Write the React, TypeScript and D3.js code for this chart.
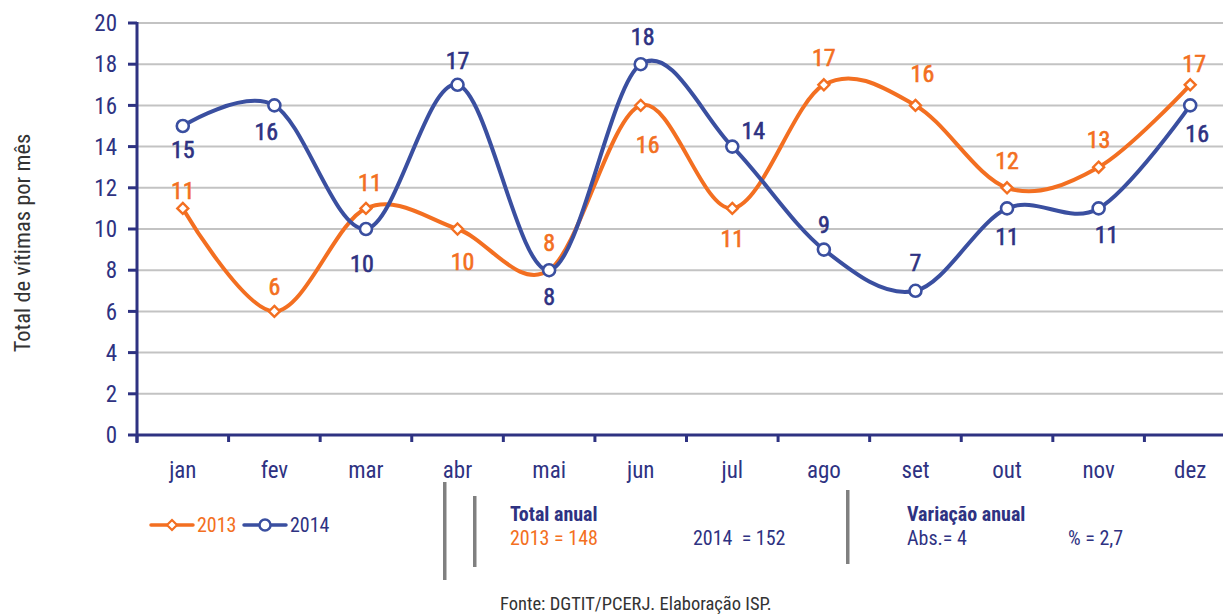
import React from "react";
import * as d3 from "d3";

const months = ["jan", "fev", "mar", "abr", "mai", "jun", "jul", "ago", "set", "out", "nov", "dez"];
const values2013 = [11, 6, 11, 10, 8, 16, 11, 17, 16, 12, 13, 17];
const values2014 = [15, 16, 10, 17, 8, 18, 14, 9, 7, 11, 11, 16];
// label offsets (dx, dy of baseline relative to point), layout only
const labelDx2013 = [0, 0, 4, 5, 0, 7, 0, 0, 7, 0, 0, 4];
const labelDy2013 = [-9, -16, -17, 41, -19, 48, 39, -19, -23, -19, -19, -13];
const labelDx2014 = [0, -8, -4, 0, 0, 2, 21, 0, 0, 0, 8, 7];
const labelDy2014 = [32, 35, 43, -16, 35, -19, -8, -17, -20, 37, 35, 37];
const yTicks = [0, 2, 4, 6, 8, 10, 12, 14, 16, 18, 20];

const W = 1223;
const H = 614;
const NAVY = "#2e3282";
const ORANGE = "#f36f21";
const BLUE = "#3a4fa0";
const GRID = "#c3c3c3";
const FONT = "'Roboto Condensed', 'Liberation Sans Narrow', 'Arial Narrow', sans-serif";

export default function App() {
  const x = d3.scaleBand().domain(months).range([137, 1236]).padding(0);
  const y = d3.scaleLinear().domain([0, 20]).range([435, 23]);
  const cx = (m: string) => (x(m) as number) + x.bandwidth() / 2;
  const line = d3
    .line<number>()
    .x((_, i) => cx(months[i]))
    .y((d) => y(d))
    .curve(d3.curveCardinal.tension(0));

  const diamond = (px: number, py: number, s: number) =>
    `M${px},${py - s}L${px + s},${py}L${px},${py + s}L${px - s},${py}Z`;

  return (
    <svg
      width={W}
      height={H}
      style={{ position: "absolute", left: 0, top: 0, background: "#fff" }}
      fontFamily={FONT}
    >
      {/* grid */}
      {yTicks.filter((t) => t > 0).map((t) => (
        <line key={"g" + t} x1={137} x2={W} y1={y(t)} y2={y(t)} stroke={GRID} strokeWidth={2} />
      ))}
      {/* y axis */}
      <line x1={137} x2={137} y1={y(20) - 1} y2={y(0) + 8} stroke={NAVY} strokeWidth={3} />
      {yTicks.map((t) => (
        <g key={"yt" + t}>
          <line x1={128} x2={137} y1={y(t)} y2={y(t)} stroke={NAVY} strokeWidth={3} />
          <text x={117} y={y(t)} dy="0.36em" textAnchor="end" fontSize={23} fill={NAVY}>
            {t}
          </text>
        </g>
      ))}
      {/* x axis */}
      <line x1={137} x2={W} y1={y(0)} y2={y(0)} stroke={NAVY} strokeWidth={3} />
      {months.map((m) => (
        <g key={"xt" + m}>
          <line x1={x(m) as number} x2={x(m) as number} y1={y(0)} y2={y(0) + 7} stroke={NAVY} strokeWidth={3} />
          <text x={cx(m)} y={478} textAnchor="middle" fontSize={23} fill={NAVY}>
            {m}
          </text>
        </g>
      ))}
      {/* y axis title */}
      <text
        transform={`translate(30,243) rotate(-90)`}
        textAnchor="middle"
        fontSize={22.5}
        fill="#333"
      >
        Total de vítimas por mês
      </text>

      {/* lines */}
      <path d={line(values2013) as string} fill="none" stroke={ORANGE} strokeWidth={4} />
      <path d={line(values2014) as string} fill="none" stroke={BLUE} strokeWidth={4} />

      {values2013.map((v, i) => (
        <path key={"d" + i} d={diamond(cx(months[i]), y(v), 5.5)} fill="#fff" stroke={ORANGE} strokeWidth={2.4} />
      ))}
      {values2014.map((v, i) => (
        <circle key={"c" + i} cx={cx(months[i])} cy={y(v)} r={6} fill="#fff" stroke={BLUE} strokeWidth={2.6} />
      ))}

      {values2013.map((v, i) => (
        <text
          key={"l13" + i}
          x={cx(months[i]) + labelDx2013[i]}
          y={y(v) + labelDy2013[i]}
          textAnchor="middle"
          fontSize={24}
          fill={ORANGE}
          stroke={ORANGE}
          strokeWidth={0.6}
        >
          {v}
        </text>
      ))}
      {values2014.map((v, i) => (
        <text
          key={"l14" + i}
          x={cx(months[i]) + labelDx2014[i]}
          y={y(v) + labelDy2014[i]}
          textAnchor="middle"
          fontSize={24}
          fill={NAVY}
          stroke={NAVY}
          strokeWidth={0.6}
        >
          {v}
        </text>
      ))}

      {/* legend */}
      <line x1={151} x2={193} y1={525} y2={525} stroke={ORANGE} strokeWidth={3.5} strokeLinecap="round" />
      <path d={diamond(172, 525, 5)} fill="#fff" stroke={ORANGE} strokeWidth={2.2} />
      <text x={197} y={532} fontSize={20} fill={ORANGE}>2013</text>
      <line x1={244} x2={286} y1={525} y2={525} stroke={BLUE} strokeWidth={3.5} strokeLinecap="round" />
      <circle cx={265} cy={525} r={5.5} fill="#fff" stroke={BLUE} strokeWidth={2.5} />
      <text x={290} y={532} fontSize={20} fill={NAVY}>2014</text>

      {/* separators */}
      <rect x={443} y={482} width={3.5} height={98} fill="#808080" />
      <rect x={473} y={496} width={3.5} height={71} fill="#808080" />
      <rect x={846} y={490} width={3.5} height={74} fill="#808080" />

      {/* totals */}
      <text x={510} y={521} fontSize={20} fontWeight="bold" fill={NAVY}>Total anual</text>
      <text x={510} y={545} fontSize={20} fill={ORANGE}>2013 = 148</text>
      <text x={693} y={545} fontSize={20} fill={NAVY} style={{ whiteSpace: "pre" }}>2014  = 152</text>
      <text x={907} y={521} fontSize={20} fontWeight="bold" fill={NAVY}>Variação anual</text>
      <text x={907} y={545} fontSize={20} fill={NAVY}>Abs.= 4</text>
      <text x={1068} y={545} fontSize={20} fill={NAVY}>% = 2,7</text>

      <text x={500} y={610} fontSize={18.5} fill="#333">Fonte: DGTIT/PCERJ. Elaboração ISP.</text>
    </svg>
  );
}
